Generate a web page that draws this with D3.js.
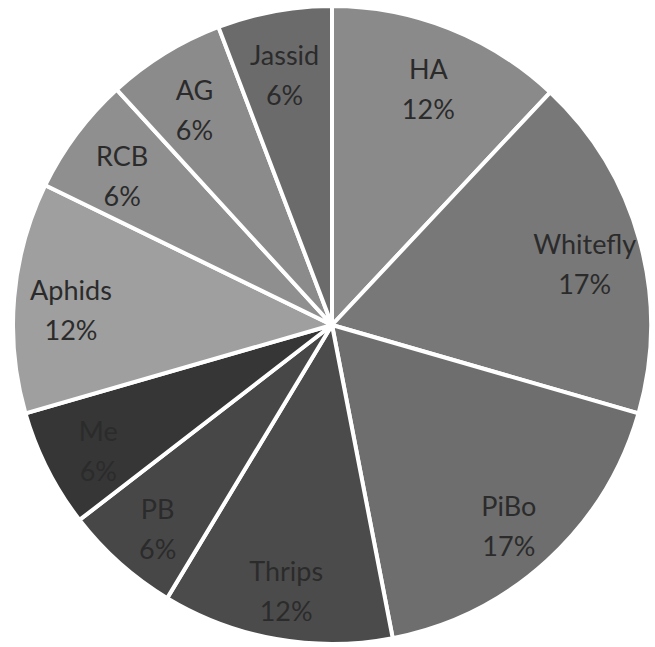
<html>
<script src="https://d3js.org/d3.v7.min.js"></script>
<style>
  body { margin: 0; background: #fff; }
  text { font-family: Lato, "Open Sans", sans-serif; font-size: 27px; fill: #2b2b2b; }
</style>
<body>
<svg width=655 height=647></svg>
<script>
var pests = ["HA", "Whitefly", "PiBo", "Thrips", "PB", "Me", "Aphids", "RCB", "AG", "Jassid"];
var shares = [12, 17.5, 17.5, 11.7, 5.9, 6.0, 11.7, 6.0, 6.0, 5.8];
var pctLabels = ["12%", "17%", "17%", "12%", "6%", "6%", "12%", "6%", "6%", "6%"];
var greys = ["#8a8a8a", "#787878", "#6e6e6e", "#4b4b4b", "#474747", "#363636", "#9f9f9f", "#8f8f8f", "#8b8b8b", "#6b6b6b"];

var svg = d3.select("svg"),
    cx = 332, cy = 325,
    radius = 319;

var color = d3.scaleOrdinal().domain(pests).range(greys);

var pie = d3.pie().sort(null).value(function(d, i) { return shares[i]; });
var arcs = pie(pests);

var arc = d3.arc().innerRadius(0).outerRadius(radius);
var labelArc = d3.arc().innerRadius(262).outerRadius(262);

var g = svg.append("g").attr("transform", "translate(" + cx + "," + cy + ")");

g.selectAll("path")
  .data(arcs)
  .enter()
  .append("path")
    .attr("d", arc)
    .attr("fill", function(d) { return color(d.data); })
    .attr("stroke", "#fff")
    .attr("stroke-width", 4)
    .attr("stroke-linejoin", "round");

var lab = g.selectAll("text")
  .data(arcs)
  .enter()
  .append("text")
    .attr("text-anchor", "middle")
    .attr("transform", function(d) { return "translate(" + labelArc.centroid(d) + ")"; });

lab.append("tspan").attr("x", 0).attr("y", -2).text(function(d) { return d.data; });
lab.append("tspan").attr("x", 0).attr("y", 38).text(function(d, i) { return pctLabels[i]; });
</script>
</body>
</html>
